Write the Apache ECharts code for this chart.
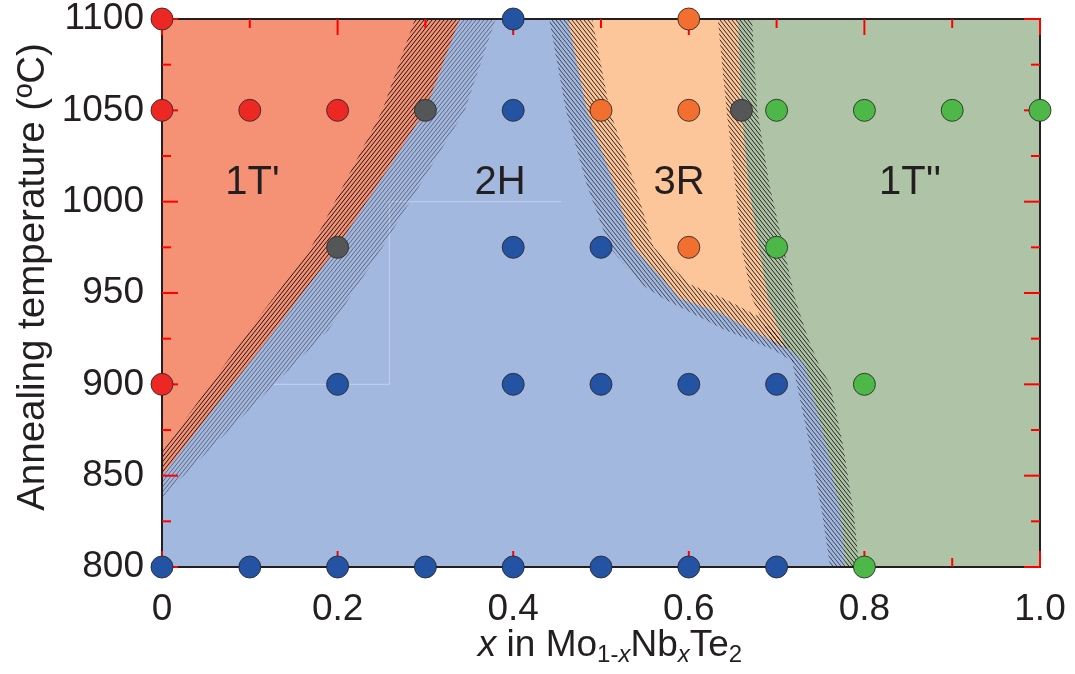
<!DOCTYPE html>
<html>
<head>
<meta charset="utf-8">
<script src="https://cdn.jsdelivr.net/npm/echarts@6/dist/echarts.min.js"></script>
<style>
html,body{margin:0;padding:0;background:#fff;}
#chart{width:1075px;height:674px;}
</style>
</head>
<body>
<div id="chart"></div>
<script>
// ---------- data ----------
const xTickLabels = ['0', '0.2', '0.4', '0.6', '0.8', '1.0'];
const yTickLabels = ['800', '850', '900', '950', '1000', '1050', '1100'];
const xMajorTicks = [0, 0.2, 0.4, 0.6, 0.8, 1.0];
const xMinorTicks = [0.1, 0.3, 0.5, 0.7, 0.9];
const yMajorTicks = [800, 850, 900, 950, 1000, 1050, 1100];
const yMinorTicks = [825, 875, 925, 975, 1025, 1075];

// measured samples (x, annealing temperature)
const pts1Tp = [[0, 1100], [0, 1050], [0.1, 1050], [0.2, 1050], [0, 900]];
const ptsMixed = [[0.3, 1050], [0.2, 975], [0.66, 1050]];
const pts2H = [[0.4, 1100], [0.4, 1050], [0.4, 975], [0.5, 975], [0.2, 900], [0.4, 900], [0.5, 900],
  [0.6, 900], [0.7, 900], [0, 800], [0.1, 800], [0.2, 800], [0.3, 800], [0.4, 800], [0.5, 800], [0.6, 800], [0.7, 800]];
const pts3R = [[0.6, 1100], [0.5, 1050], [0.6, 1050], [0.6, 975]];
const pts1Tpp = [[0.7, 1050], [0.8, 1050], [0.9, 1050], [1.0, 1050], [0.7, 975], [0.8, 900], [0.8, 800]];

// phase boundaries (x, T)
const bnd1Tp2H = [[0, 850], [0.129, 930], [0.2, 975], [0.3, 1050], [0.339, 1100]];
const edge1TpSide = [[0, 863], [0.10, 930], [0.17, 975], [0.251, 1050], [0.288, 1100]];
const edge2HSideA = [[0, 838], [0.19, 930], [0.251, 975], [0.345, 1050], [0.38, 1100]];

const bnd2H3R = [[0.462, 1100], [0.484, 1050], [0.515, 1009], [0.537, 975], [0.59, 947], [0.636, 939], [0.67, 930], [0.715, 919]];
const edge3RSideA = [[0.49, 1100], [0.51, 1050], [0.539, 1009], [0.56, 975], [0.60, 955], [0.64, 947], [0.68, 937], [0.715, 921]];
const edge2HSideB = [[0.441, 1100], [0.46, 1050], [0.484, 1009], [0.51, 975], [0.545, 955], [0.571, 947], [0.64, 930], [0.696, 919], [0.72, 912]];

const bnd3R1Tpp = [[0.656, 1100], [0.66, 1050], [0.668, 1009], [0.68, 975], [0.69, 947], [0.708, 922], [0.715, 919]];
const edge3RSideB = [[0.633, 1100], [0.643, 1050], [0.653, 1009], [0.66, 975], [0.672, 947], [0.696, 922], [0.715, 919]];
const bnd2H1Tpp = [[0.715, 919], [0.731, 912], [0.738, 900], [0.757, 866], [0.773, 829], [0.778, 800]];
const edge2HSideC = [[0.715, 919], [0.718, 912], [0.723, 900], [0.738, 866], [0.752, 829], [0.761, 800]];
const edge1TppSide = [[0.672, 1100], [0.678, 1050], [0.692, 1009], [0.708, 975], [0.721, 947], [0.736, 925], [0.749, 910],
  [0.761, 900], [0.776, 866], [0.788, 829], [0.794, 800]];

const faintLine = [[0.127, 900], [0.259, 900], [0.259, 1000], [0.455, 1000]];

const phaseLabels = [[0.103, 1010, "1T'"], [0.385, 1010, '2H'], [0.589, 1010, '3R'], [0.852, 1010, "1T''"]];

const X_MIN = 0, X_MAX = 1, T_MIN = 800, T_MAX = 1100;

// ---------- helpers ----------
const rev = a => a.slice().reverse();
function hatch(dir, color, lw) {
  const w = 4, h = 5;
  const c = document.createElement('canvas');
  c.width = w; c.height = h;
  const g = c.getContext('2d');
  g.strokeStyle = color; g.lineWidth = lw;
  g.beginPath();
  for (const k of [-w, 0, w]) {
    if (dir === '/') { g.moveTo(k, h); g.lineTo(k + w, 0); }
    else { g.moveTo(k, 0); g.lineTo(k + w, h); }
  }
  g.stroke();
  return { image: c, repeat: 'repeat' };
}
function poly(points, fill, z) {
  return {
    type: 'custom', coordinateSystem: 'cartesian2d', z: z, silent: true, clip: true,
    data: points,
    renderItem: function (params, api) {
      if (params.dataIndex !== 0) return null;
      return { type: 'polygon', shape: { points: points.map(p => api.coord(p)) }, style: { fill: fill } };
    }
  };
}

const C_BLUE = '#A3B8DF', C_SALMON = '#F59276', C_PEACH = '#FDC59A', C_GREEN = '#AFC4A6';

const polyAll = [[X_MIN, T_MIN], [X_MAX, T_MIN], [X_MAX, T_MAX], [X_MIN, T_MAX]];
const poly1Tp = [[X_MIN, T_MAX]].concat(rev(bnd1Tp2H));
const poly3R = bnd2H3R.concat(rev(bnd3R1Tpp));
const poly1Tpp = bnd3R1Tpp.concat(bnd2H1Tpp.slice(1), [[X_MAX, T_MIN], [X_MAX, T_MAX]]);

const hDark = hatch('/', 'rgba(10,10,10,0.9)', 1);
const hLight = hatch('/', 'rgba(40,40,50,0.55)', 1);
const bDark = hatch('\\', 'rgba(10,10,10,0.85)', 1);
const bLight = hatch('\\', 'rgba(20,20,30,0.7)', 1);

const AX = '#231F20';
const TICK = '#ff0000';
const FONT = '"Liberation Sans", Arial, Helvetica, sans-serif';

// inward ticks on both sides of the frame, as polygons (filled rectangles) placed through the axis scales
function tickSeries(values, isX, len) {
  return {
    type: 'custom', coordinateSystem: 'cartesian2d', z: 50, silent: true, clip: false,
    data: values.map(v => isX ? [v, T_MIN] : [X_MIN, v]),
    renderItem: function (params, api) {
      if (isX) {
        const v = api.value(0);
        const a = api.coord([v, T_MIN]), b = api.coord([v, T_MAX]);
        return { type: 'group', children: [
          { type: 'rect', shape: { x: a[0] - 1, y: a[1] - len, width: 2, height: len }, style: { fill: TICK } },
          { type: 'rect', shape: { x: b[0] - 1, y: b[1], width: 2, height: len }, style: { fill: TICK } }
        ] };
      }
      const v = api.value(1);
      const a = api.coord([X_MIN, v]), b = api.coord([X_MAX, v]);
      return { type: 'group', children: [
        { type: 'rect', shape: { x: a[0], y: a[1] - 1, width: len, height: 2 }, style: { fill: TICK } },
        { type: 'rect', shape: { x: b[0] - len, y: b[1] - 1, width: len, height: 2 }, style: { fill: TICK } }
      ] };
    }
  };
}

function xAxisCfg(pos, labels) {
  return {
    type: 'value', position: pos, min: X_MIN, max: X_MAX, interval: 0.2, z: 40,
    axisLine: { show: true, onZero: false, lineStyle: { color: AX, width: 2 } },
    axisTick: { show: false },
    splitLine: { show: false },
    axisLabel: {
      show: labels, margin: 24, fontSize: 37, color: AX, fontFamily: FONT,
      showMinLabel: true, showMaxLabel: true,
      formatter: v => xTickLabels[Math.round(v / 0.2)]
    }
  };
}
function yAxisCfg(pos, labels) {
  return {
    type: 'value', position: pos, min: T_MIN, max: T_MAX, interval: 50, z: 40,
    axisLine: { show: true, onZero: false, lineStyle: { color: AX, width: 2 } },
    axisTick: { show: false },
    splitLine: { show: false },
    axisLabel: {
      show: labels, margin: 18, fontSize: 37, color: AX, fontFamily: FONT,
      showMinLabel: true, showMaxLabel: true,
      formatter: v => yTickLabels[Math.round((v - T_MIN) / 50)]
    }
  };
}
function dots(data, color) {
  return {
    type: 'scatter', data: data, symbol: 'circle', symbolSize: 22, z: 80, clip: false, silent: true,
    itemStyle: { color: color, borderColor: 'rgba(40,40,40,0.85)', borderWidth: 1, opacity: 1 }
  };
}

const chart = echarts.init(document.getElementById('chart'), null, { renderer: 'canvas' });
chart.setOption({
  animation: false,
  backgroundColor: '#ffffff',
  grid: { left: 162, top: 19, width: 878, height: 548 },
  xAxis: [xAxisCfg('bottom', true), xAxisCfg('top', false)],
  yAxis: [yAxisCfg('left', true), yAxisCfg('right', false)],
  graphic: [
    {
      id: 'yname', type: 'text', x: 33, y: 277, rotation: Math.PI / 2,
      style: { text: 'Annealing temperature (ºC)', font: '38.5px ' + FONT, fill: AX, align: 'center', verticalAlign: 'middle' }
    },
    {
      id: 'xname', type: 'text', x: 610, y: 646,
      style: {
        text: '{i|x} in Mo{s|1-}{si|x}Nb{si|x}Te{s|2}',
        font: '37px ' + FONT, fill: AX, align: 'center', verticalAlign: 'middle',
        rich: {
          i: { fontSize: 37, fontStyle: 'italic', fontFamily: FONT, lineHeight: 42, fill: AX },
          s: { fontSize: 24, fontFamily: FONT, lineHeight: 22, verticalAlign: 'bottom', fill: AX },
          si: { fontSize: 24, fontStyle: 'italic', fontFamily: FONT, lineHeight: 22, verticalAlign: 'bottom', fill: AX }
        },
        lineHeight: 42
      }
    }
  ],
  series: [
    poly(polyAll, C_BLUE, 1),
    poly(poly1Tpp, C_GREEN, 1),
    poly(poly3R, C_PEACH, 1),
    poly(poly1Tp, C_SALMON, 1),
    {
      type: 'line', data: faintLine, symbol: 'none', z: 1, silent: true,
      lineStyle: { color: 'rgba(255,255,255,0.35)', width: 1 }
    },
    poly(edge1TpSide.concat(rev(bnd1Tp2H)), hDark, 2),
    poly(bnd1Tp2H.concat(rev(edge2HSideA)), hLight, 2),
    poly(bnd2H3R.concat(rev(edge3RSideA)), bDark, 2),
    poly(bnd2H3R.concat(rev(edge2HSideB)), bLight, 2),
    poly(bnd3R1Tpp.concat(rev(edge3RSideB)), bDark, 2),
    poly(bnd2H1Tpp.concat(rev(edge2HSideC)), bLight, 2),
    poly(bnd3R1Tpp.concat(bnd2H1Tpp.slice(1), rev(edge1TppSide)), bDark, 2),
    tickSeries(xMajorTicks, true, 16),
    tickSeries(xMinorTicks, true, 9),
    tickSeries(yMajorTicks, false, 16),
    tickSeries(yMinorTicks, false, 9),
    {
      type: 'scatter', data: phaseLabels, symbolSize: 0, z: 60, silent: true, clip: false,
      itemStyle: { opacity: 1 },
      label: {
        show: true, position: 'inside', formatter: p => p.data[2],
        fontSize: 40, color: AX, fontFamily: FONT, opacity: 1
      }
    },
    dots(pts2H, '#2453A3'),
    dots(pts1Tp, '#ED2824'),
    dots(ptsMixed, '#555658'),
    dots(pts3R, '#F26F2F'),
    dots(pts1Tpp, '#4DB848')
  ]
});
</script>
</body>
</html>
